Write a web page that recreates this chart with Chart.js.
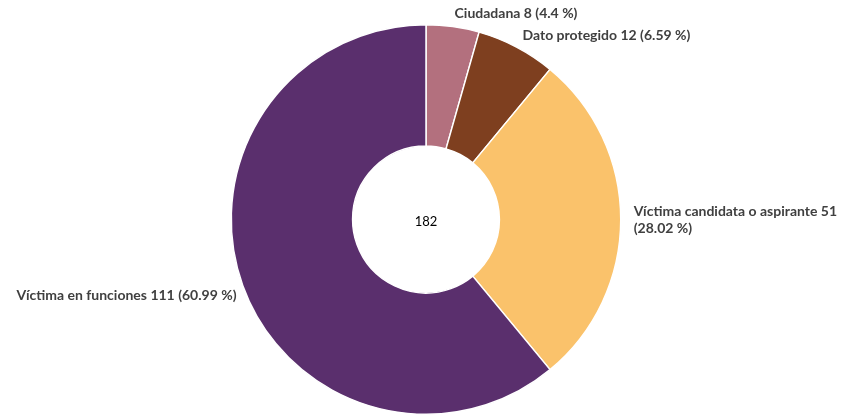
<!DOCTYPE html>
<html>
<head>
<meta charset="utf-8">
<script src="https://cdn.jsdelivr.net/npm/chart.js@4/dist/chart.umd.min.js"></script>
<style>
  html, body { margin: 0; padding: 0; background: #ffffff; }
  #wrap { width: 852px; height: 418px; position: relative; }
</style>
</head>
<body>
<div id="wrap"><canvas id="chart"></canvas></div>
<script>
// Data
const categories = ['Ciudadana', 'Dato protegido', 'Víctima candidata o aspirante', 'Víctima en funciones'];
const values = [8, 12, 51, 111];
const colors = ['#b3707e', '#7e3f1f', '#fac26b', '#5a2f6d'];
const centerLabel = '182';

const total = values.reduce((a, b) => a + b, 0);
const FONT = 'bold 14px Lato, "Open Sans", sans-serif';

// wrap a label into lines no wider than maxWidth
function wrapText(ctx, text, maxWidth) {
    const words = text.split(' ');
    const lines = [];
    let line = '';
    words.forEach(w => {
        const test = line ? line + ' ' + w : w;
        if (ctx.measureText(test).width > maxWidth && line) {
            lines.push(line);
            line = w;
        } else {
            line = test;
        }
    });
    if (line) lines.push(line);
    return lines;
}

// Draws outside labels and the center total
const outsideLabels = {
    id: 'outsideLabels',
    afterDatasetsDraw(chart) {
        const ctx = chart.ctx;
        const meta = chart.getDatasetMeta(0);
        ctx.save();
        ctx.font = FONT;
        ctx.fillStyle = '#404040';
        meta.data.forEach((arc, i) => {
            const mid = (arc.startAngle + arc.endAngle) / 2;
            const r = arc.outerRadius + 13;
            const x = arc.x + Math.cos(mid) * r;
            const y = arc.y + Math.sin(mid) * r;
            const pct = Math.round(values[i] / total * 10000) / 100;
            const text = categories[i] + ' ' + values[i] + ' (' + pct + ' %)';
            const right = x >= arc.x - 1;
            // room left of the ring is wider than right of it
            const lines = wrapText(ctx, text, right ? 212 : 240);
            ctx.textAlign = right ? 'left' : 'right';
            ctx.textBaseline = 'middle';
            const lh = 17;
            const y0 = y - (lines.length - 1) * lh / 2 + (Math.sin(mid) > 0.2 ? 6 : 0);
            lines.forEach((l, k) => ctx.fillText(l, x + (right ? 0 : 6), y0 + k * lh));
        });
        const a0 = meta.data[0];
        ctx.font = '13px Lato, "Open Sans", sans-serif';
        ctx.fillStyle = '#000000';
        ctx.textAlign = 'center';
        ctx.textBaseline = 'middle';
        ctx.fillText(centerLabel, a0.x, a0.y + 2);
        ctx.restore();
    }
};

new Chart(document.getElementById('chart'), {
    type: 'doughnut',
    data: {
        labels: categories,
        datasets: [{
            data: values,
            backgroundColor: colors,
            borderColor: '#ffffff',
            borderWidth: 1.5
        }]
    },
    options: {
        responsive: true,
        maintainAspectRatio: false,
        animation: false,
        cutout: '37.7%',
        layout: { padding: { top: 24, bottom: 3, left: 0, right: 0 } },
        plugins: {
            legend: { display: false },
            tooltip: { enabled: false }
        }
    },
    plugins: [outsideLabels]
});
</script>
</body>
</html>
